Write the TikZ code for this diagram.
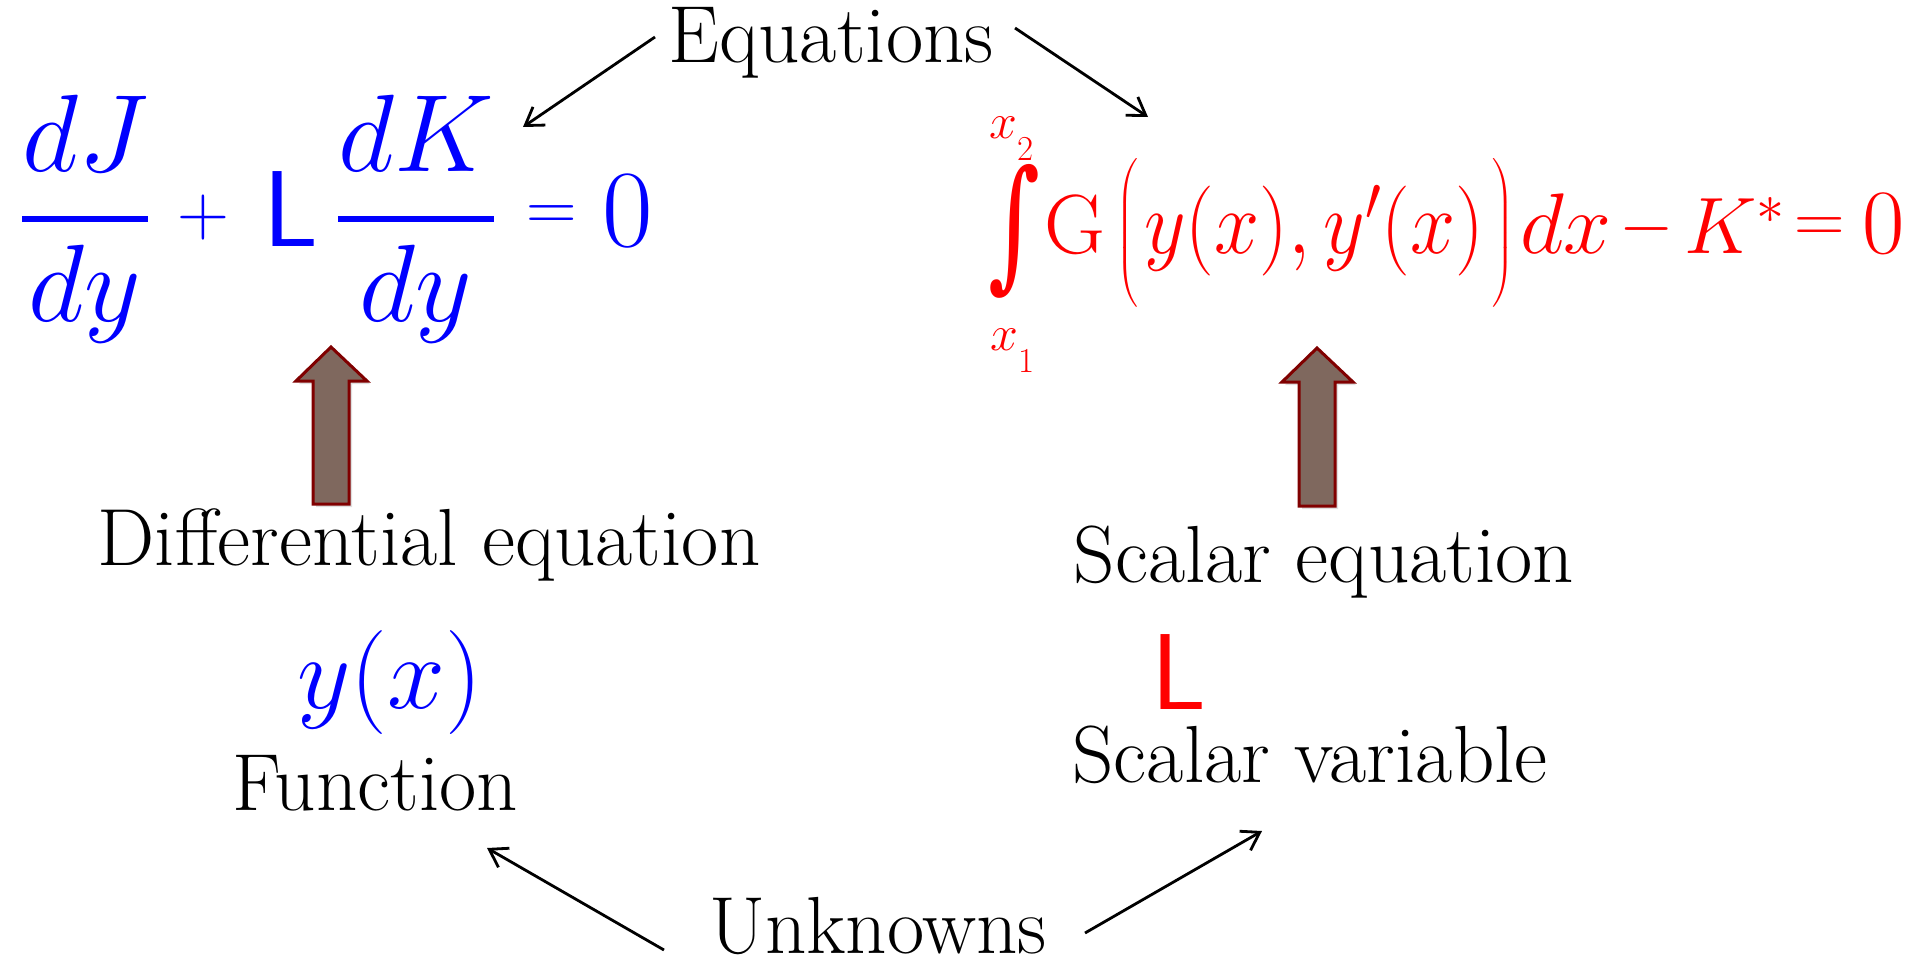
\RequirePackage{fix-cm}
\documentclass[tikz,border=0pt]{standalone}
\usepackage{amsmath}
\usepackage{graphicx}
\usepackage{fontspec}
\newfontfamily\intfont{DejaVu Serif}
\usetikzlibrary{arrows.meta,shadows}
\definecolor{eqblue}{RGB}{0,0,255}
\definecolor{eqred}{RGB}{255,0,0}
\definecolor{blkfill}{RGB}{127,104,94}
\definecolor{blkedge}{RGB}{128,0,0}
\newcommand{\fsz}[1]{\fontsize{#1}{#1}\selectfont}
\tikzset{
  lbl/.style={font=\fsz{81}, anchor=base, inner sep=0pt},
  eqb/.style={text=eqblue, anchor=base, inner sep=0pt},
  eqr/.style={text=eqred, anchor=base, inner sep=0pt},
  conn/.style={draw=black, line width=2.8pt, -{Straight Barb[length=17pt,width=22pt]}},
  blockarrow/.style={fill=blkfill, draw=blkedge, line width=3pt, line join=miter,
    drop shadow={opacity=0.25, shadow xshift=3pt, shadow yshift=-3pt}}
}
\begin{document}
\begin{tikzpicture}[x=1pt,y=-1pt]
\fill[white] (0,0) rectangle (1925,966);
\useasboundingbox (0,0) rectangle (1925,966);

% labels
\node[lbl] (equations) at (831,63) {Equations};
\node[lbl] (diffeq) at (429,565) {Differential equation};
\node[lbl] (function) at (375,810) {Function};
\node[lbl] (scaleq) at (1324,582) {Scalar equation};
\node[lbl] (scalvar) at (1310,782) {Scalar variable};
\node[lbl] (unknowns) at (878,953) {Unknowns};

% left equation (blue)
\node[eqb, font=\fsz{110}] (fracJ) at (85,246) {$\genfrac{}{}{6pt}{0}{dJ}{dy}$};
\node[eqb, font=\fsz{72}, anchor=center] (plusL) at (203,218) {$+$};
\node[eqb, font=\sffamily\fsz{108}] (lamL) at (291,246) {L};
\node[eqb, font=\fsz{110}] (fracK) at (416,246) {$\genfrac{}{}{6pt}{0}{dK}{dy}$};
\node[eqb, font=\fsz{70}, anchor=center] (eqL) at (552,218) {$=$};
\node[eqb, font=\fsz{110}] (zeroL) at (628,246) {$0$};

% right equation (red)
\node[eqr, anchor=center] (intR) at (1015,231) {\resizebox{52pt}{108pt}{\intfont ∫}};
\node[eqr, font=\fsz{50}, anchor=base west] (upperlim) at (989,138) {$x\lower 22pt\hbox{$\scriptstyle 2$}$};
\node[eqr, font=\fsz{50}, anchor=base west] (lowerlim) at (990,350) {$x\lower 22pt\hbox{$\scriptstyle 1$}$};
\node[eqr, font=\fsz{84}] (G) at (1075,253) {$\mathrm{G}$};
\node[eqr, font=\fsz{80}] (lp) at (1127,253) {$\Big($};
\node[eqr, font=\fsz{90}] (args) at (1314,253) {\scalebox{0.9}[1]{$y(x),y'(x)$}};
\node[eqr, font=\fsz{80}] (rp) at (1503,253) {$\Big)$};
\node[eqr, font=\fsz{86}] (dx) at (1566,253) {$dx$};
\node[eqr, font=\fsz{70}, anchor=center] (minus) at (1647,229) {$-$};
\node[eqr, font=\fsz{80}, anchor=base west] (Kstar) at (1684,253) {$K^*$};
\node[eqr, font=\fsz{70}, anchor=center] (eqR) at (1820,230) {$=$};
\node[eqr, font=\fsz{92}] (zeroR) at (1884,253) {$0$};

% unknowns
\node[eqb, font=\fsz{104}] (yx) at (390,708) {$y(x)$};
\node[eqr, font=\sffamily\fsz{108}] (lamR) at (1179,709) {L};

% block arrows
\path[blockarrow] (331,347) -- (367,381) -- (349,381) -- (349,504) -- (313,504) -- (313,381) -- (296,381) -- cycle;
\path[blockarrow] (1317,348) -- (1353,382) -- (1335,382) -- (1335,506) -- (1299,506) -- (1299,382) -- (1282,382) -- cycle;

% connectors
\coordinate (a1s) at (655,37);   \coordinate (a1e) at (523,127);
\coordinate (a2s) at (1015,28);  \coordinate (a2e) at (1148,117);
\coordinate (a3s) at (664,950);  \coordinate (a3e) at (487,848);
\coordinate (a4s) at (1085,933); \coordinate (a4e) at (1262,831);
\draw[conn] (a1s) -- (a1e);
\draw[conn] (a2s) -- (a2e);
\draw[conn] (a3s) -- (a3e);
\draw[conn] (a4s) -- (a4e);
\end{tikzpicture}
\end{document}
